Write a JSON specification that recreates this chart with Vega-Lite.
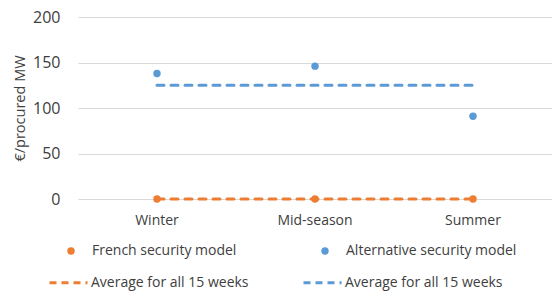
{
  "$schema": "https://vega.github.io/schema/vega-lite/v6.json",
  "width": 474,
  "height": 182,
  "autosize": {"type": "none"},
  "padding": {"left": 78, "top": 17, "right": 0, "bottom": 94},
  "config": {
    "view": {"stroke": null},
    "font": "Open Sans",
    "axis": {"labelFont": "Open Sans", "titleFont": "Open Sans", "labelColor": "#404040", "titleColor": "#404040"},
    "legend": {"labelFont": "Open Sans", "labelColor": "#404040"}
  },
  "datasets": {
    "points": [
      {"season": "Winter", "series": "French security model", "value": 0},
      {"season": "Mid-season", "series": "French security model", "value": 0},
      {"season": "Summer", "series": "French security model", "value": 0},
      {"season": "Winter", "series": "Alternative security model", "value": 138},
      {"season": "Mid-season", "series": "Alternative security model", "value": 146},
      {"season": "Summer", "series": "Alternative security model", "value": 91}
    ],
    "averages": [
      {"season": "Winter", "avg": "French average", "value": 0},
      {"season": "Mid-season", "avg": "French average", "value": 0},
      {"season": "Summer", "avg": "French average", "value": 0},
      {"season": "Winter", "avg": "Alternative average", "value": 125},
      {"season": "Mid-season", "avg": "Alternative average", "value": 125},
      {"season": "Summer", "avg": "Alternative average", "value": 125}
    ]
  },
  "encoding": {
    "x": {
      "field": "season", "type": "nominal",
      "sort": ["Winter", "Mid-season", "Summer"],
      "scale": {"type": "band", "paddingInner": 0, "paddingOuter": 0},
      "axis": {"title": null, "labelAngle": 0, "domain": false, "ticks": false, "labelPadding": 14, "labelFontSize": 14, "grid": false}
    },
    "y": {
      "field": "value", "type": "quantitative",
      "scale": {"domain": [0, 200], "nice": false},
      "axis": {"title": "€/procured MW", "values": [0, 50, 100, 150, 200], "domain": false, "ticks": false, "labelPadding": 18, "labelFontSize": 16, "titleFontSize": 14.5, "titleFontWeight": "normal", "titlePadding": 5, "gridColor": "#D9D9D9", "gridWidth": 1}
    }
  },
  "layer": [
    {
      "data": {"name": "averages"},
      "mark": {"type": "line", "strokeWidth": 3, "strokeDash": [7, 7], "strokeCap": "round"},
      "encoding": {
        "color": {
          "field": "avg", "type": "nominal",
          "scale": {"domain": ["French average", "Alternative average"], "range": ["#ED7D31", "#5B9BD5"]},
          "legend": {
            "orient": "none", "legendX": -30, "legendY": 245,
            "direction": "horizontal", "columns": 2, "title": null,
            "symbolType": "stroke", "symbolSize": 1444, "symbolStrokeWidth": 3, "symbolDash": [7, 5],
            "labelOffset": 2, "labelFontSize": 14, "labelLimit": 250, "columnPadding": 48, "padding": 0,
            "labelExpr": "'Average for all 15 weeks'"
          }
        }
      }
    },
    {
      "data": {"name": "points"},
      "mark": {"type": "point", "filled": true, "shape": "circle", "size": 55, "opacity": 1},
      "encoding": {
        "color": {
          "field": "series", "type": "nominal",
          "scale": {"domain": ["French security model", "Alternative security model"], "range": ["#ED7D31", "#5B9BD5"]},
          "legend": {
            "orient": "none", "legendX": -14, "legendY": 227,
            "direction": "horizontal", "columns": 2, "title": null,
            "symbolType": "circle", "symbolSize": 55, "symbolStrokeWidth": 0,
            "labelOffset": 14, "labelFontSize": 14, "labelLimit": 250, "columnPadding": 81, "padding": 0
          }
        }
      }
    }
  ],
  "resolve": {"scale": {"color": "independent"}}
}
